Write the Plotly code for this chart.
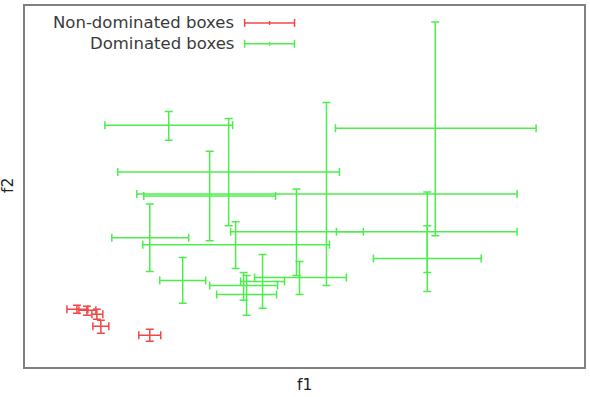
import plotly.graph_objects as go

# Non-dominated boxes (red): centre and bounds
nd_f1 = [52, 62, 72, 76, 125]
nd_f1_lo = [42, 54, 67, 68, 114]
nd_f1_hi = [63, 71, 78, 84, 136]
nd_f2 = [58, 57, 53, 41, 32]
nd_f2_lo = [54, 52, 48, 34, 26]
nd_f2_hi = [62, 61, 58, 47, 38]

# Dominated boxes (green)
d_f1 = [144, 204, 185, 302, 411, 403, 403, 272, 211, 125, 158, 275, 238, 219, 222]
d_f1_lo = [80, 93, 119, 112, 311, 349, 312, 206, 118, 87, 135, 230, 216, 185, 192]
d_f1_hi = [208, 315, 251, 493, 512, 457, 493, 339, 305, 164, 181, 322, 260, 253, 252]
d_f2 = [243, 196, 172, 174, 240, 109, 136, 136, 123, 130, 87, 90, 86, 82, 73]
d_f2_lo = [228, 142, 127, 82, 132, 76, 95, 92, 99, 96, 64, 73, 59, 67, 52]
d_f2_hi = [257, 250, 217, 266, 347, 142, 176, 179, 146, 164, 110, 106, 113, 95, 92]

RED = "#f04848"
GREEN = "#4cee4c"
FONT = "DejaVu Sans"
LW = 1.5


def boxes(x, xlo, xhi, y, ylo, yhi, color, name):
    return go.Scatter(
        x=x, y=y, mode="markers", name=name,
        marker=dict(size=1, color=color, opacity=0),
        error_x=dict(type="data", symmetric=False,
                     array=[h - c for h, c in zip(xhi, x)],
                     arrayminus=[c - l for c, l in zip(x, xlo)],
                     color=color, thickness=LW, width=4),
        error_y=dict(type="data", symmetric=False,
                     array=[h - c for h, c in zip(yhi, y)],
                     arrayminus=[c - l for c, l in zip(y, ylo)],
                     color=color, thickness=LW, width=4),
        showlegend=False, hoverinfo="skip",
    )


fig = go.Figure()
fig.add_trace(boxes(d_f1, d_f1_lo, d_f1_hi, d_f2, d_f2_lo, d_f2_hi, GREEN, "Dominated boxes"))
fig.add_trace(boxes(nd_f1, nd_f1_lo, nd_f1_hi, nd_f2, nd_f2_lo, nd_f2_hi, RED, "Non-dominated boxes"))

W, H = 590, 397
L, R, T, B = 25, 5, 4, 30
pw, ph = W - L - R, H - T - B


def px(xp):
    return (xp - L) / pw


def py(yp):
    return (H - B - yp) / ph


shapes = []
annotations = []
legend_items = [("Non-dominated boxes", RED, 21), ("Dominated boxes", GREEN, 42)]
for text, col, yp in legend_items:
    annotations.append(dict(text=text, xref="paper", yref="paper", x=px(236), y=py(yp),
                            xanchor="right", yanchor="middle", showarrow=False,
                            font=dict(family=FONT, size=16.5, color="#3a3a3a")))
    shapes.append(dict(type="line", xref="paper", yref="paper", x0=px(245), x1=px(295),
                       y0=py(yp), y1=py(yp), line=dict(color=col, width=LW)))
    for xx, hh in [(245, 4), (295, 4), (270, 2)]:
        shapes.append(dict(type="line", xref="paper", yref="paper", x0=px(xx), x1=px(xx),
                           y0=py(yp - hh), y1=py(yp + hh), line=dict(color=col, width=LW)))

annotations.append(dict(text="f1", xref="paper", yref="paper", x=px(305), y=py(385),
                        xanchor="center", yanchor="middle", showarrow=False,
                        font=dict(family=FONT, size=15.5, color="#222222")))
annotations.append(dict(text="f2", xref="paper", yref="paper", x=px(8), y=py(185),
                        xanchor="center", yanchor="middle", showarrow=False, textangle=-90,
                        font=dict(family=FONT, size=15.5, color="#222222")))

axis_common = dict(showgrid=False, zeroline=False, showticklabels=False, ticks="",
                   showline=True, mirror=True, linecolor="#808080", linewidth=2)
fig.update_layout(
    width=W, height=H, margin=dict(l=L, r=R, t=T, b=B),
    paper_bgcolor="white", plot_bgcolor="white",
    xaxis=dict(range=[0, pw], **axis_common),
    yaxis=dict(range=[0, ph], **axis_common),
    shapes=shapes, annotations=annotations, showlegend=False,
)
fig.write_html("out.html")
